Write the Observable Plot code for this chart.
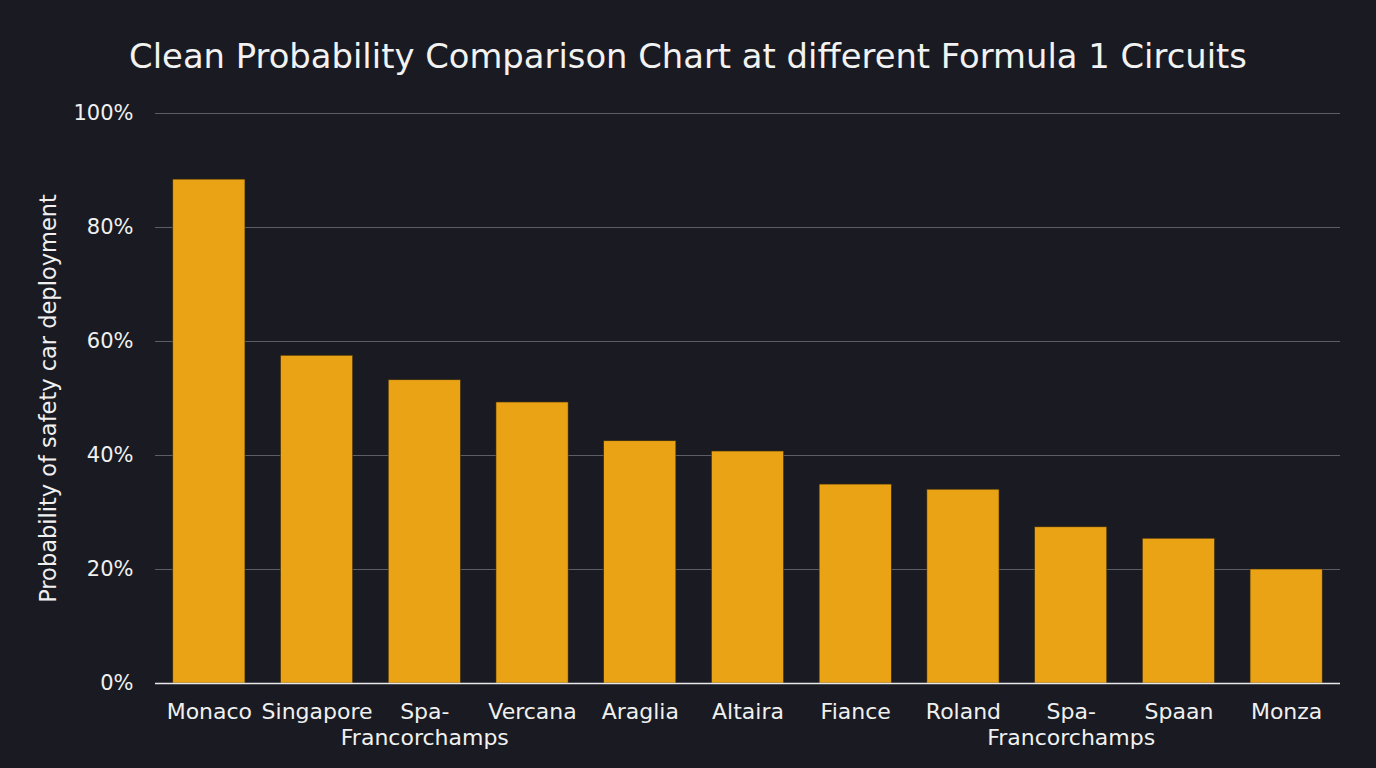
<!DOCTYPE html>
<html>
<head>
<meta charset="utf-8">
<script src="https://cdn.jsdelivr.net/npm/d3@7"></script>
<script src="https://cdn.jsdelivr.net/npm/@observablehq/plot@0.6"></script>
<style>
  html, body { margin: 0; padding: 0; background: #1a1b22; }
  body { width: 1376px; height: 768px; overflow: hidden; font-family: "DejaVu Sans", sans-serif; }
  #title { height: 95px; box-sizing: border-box; padding-top: 37px; text-align: center; color: #f2f2f2; font-size: 33.8px; line-height: 40px; font-weight: normal; }
</style>
</head>
<body>
<div id="title">Clean Probability Comparison Chart at different Formula 1 Circuits</div>
<div id="chart"></div>
<script>
const circuits = ["Monaco", "Singapore", "Spa-\nFrancorchamps", "Vercana", "Araglia", "Altaira", "Fiance", "Roland", "Spa-\nFrancorchamps", "Spaan", "Monza"];
const probability = [88.4, 57.5, 53.2, 49.3, 42.5, 40.7, 34.9, 34.0, 27.4, 25.4, 20.0];
const yTicks = [0, 20, 40, 60, 80, 100];
const yLabel = "Probability of safety car deployment";

const data = circuits.map((c, i) => ({ idx: i, name: c, value: probability[i] }));

const chart = Plot.plot({
  width: 1376,
  height: 673,
  marginTop: 18,
  marginBottom: 85,
  marginLeft: 155,
  marginRight: 36,
  style: { background: "#1a1b22", color: "#f0f0f0", fontSize: "20px", fontFamily: "'DejaVu Sans', sans-serif" },
  x: { domain: d3.range(circuits.length), paddingInner: 0.33, paddingOuter: 0.165, round: false, label: null },
  y: { domain: [0, 100], label: null },
  marks: [
    Plot.gridY(yTicks, { stroke: "#5c5e66", strokeOpacity: 1, strokeWidth: 1 }),
    Plot.barY(data, { x: "idx", y: "value", fill: "#eba316", stroke: "#3a2a0a", strokeWidth: 0.6 }),
    Plot.ruleY([0], { stroke: "#e8e8e8", strokeWidth: 1.5 }),
    Plot.axisY(yTicks, { tickSize: 0, tickPadding: 22, tickFormat: d => d + "%", fontSize: 21, fill: "#f0f0f0", label: null }),
    Plot.text([yLabel], { frameAnchor: "left", rotate: -90, dx: -107, textAnchor: "middle", fontSize: 22.5, fill: "#f0f0f0", text: d => d }),
    Plot.axisX({ tickSize: 0, tickPadding: 17, tickFormat: i => circuits[i], fontSize: 22, lineHeight: 1.18, fill: "#f0f0f0", label: null })
  ]
});
document.getElementById("chart").appendChild(chart);
</script>
</body>
</html>
